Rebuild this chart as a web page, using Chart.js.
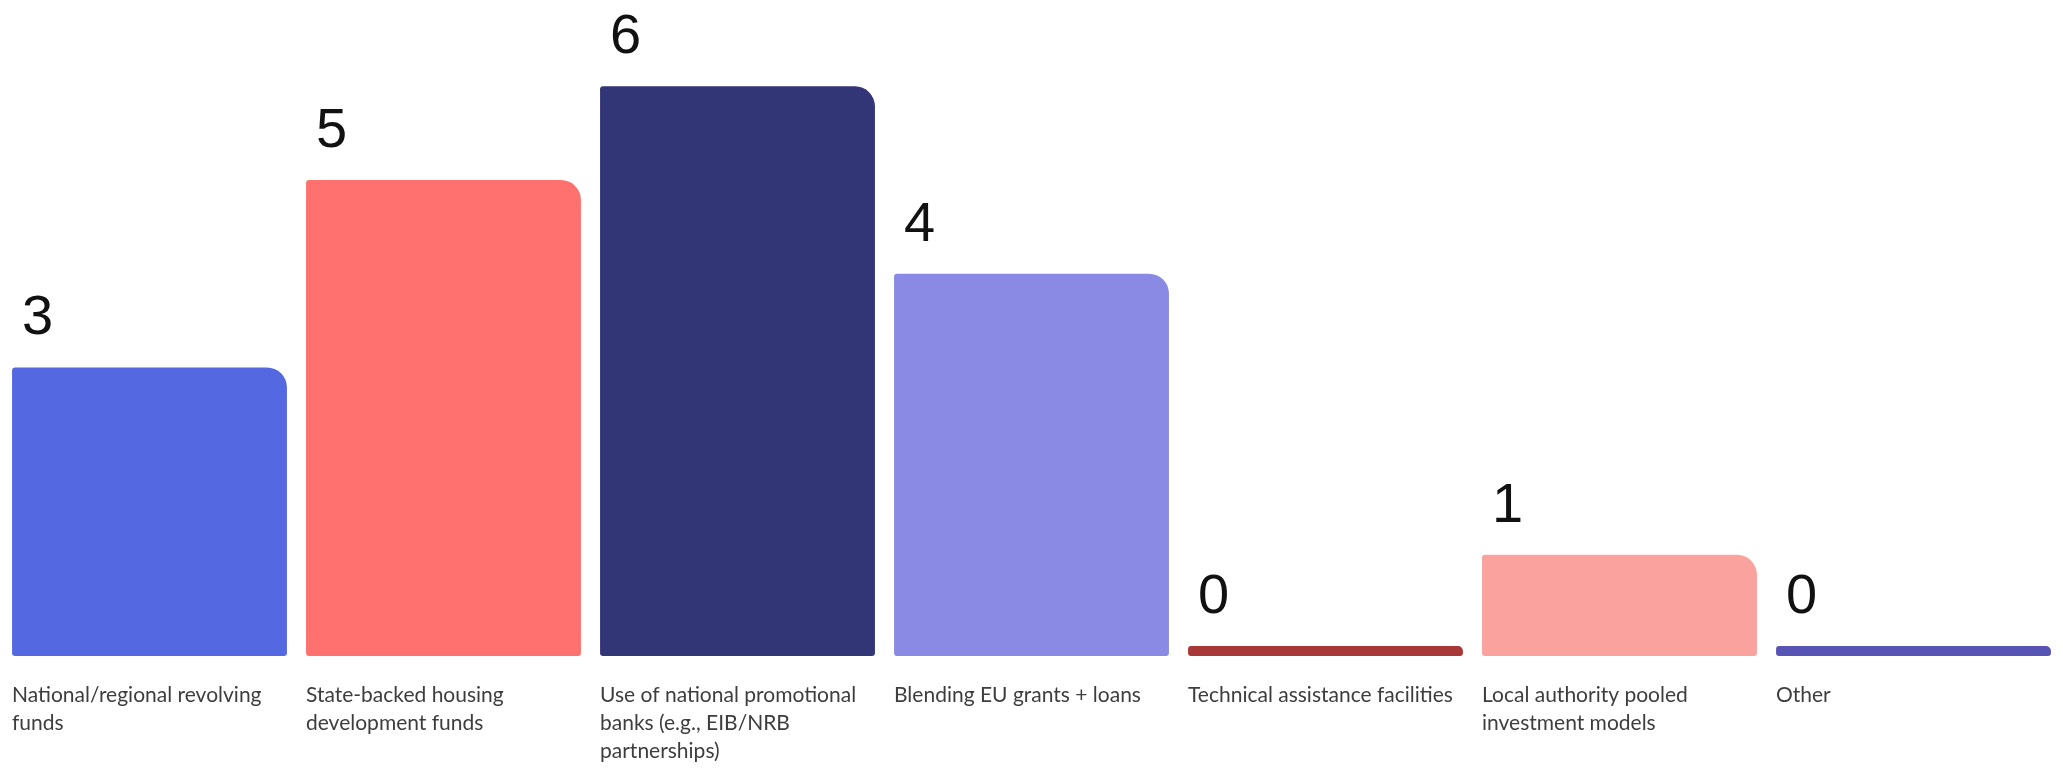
<!DOCTYPE html>
<html>
<head>
<meta charset="utf-8">
<title>Financing instruments</title>
<script src="https://cdn.jsdelivr.net/npm/chart.js@4.4.1/dist/chart.umd.min.js"></script>
<style>
    html, body { margin: 0; padding: 0; background: #ffffff; }
    #wrap { width: 2063px; height: 768px; position: relative; }
</style>
</head>
<body>
<div id="wrap"><canvas id="bar-chartInstrumentos"></canvas></div>
<script>
// Categorías (cada una partida en líneas como en la leyenda del eje)
const categorias = [
    ["National/regional revolving", "funds"],
    ["State-backed housing", "development funds"],
    ["Use of national promotional", "banks (e.g., EIB/NRB", "partnerships)"],
    ["Blending EU grants + loans"],
    ["Technical assistance facilities"],
    ["Local authority pooled", "investment models"],
    ["Other"]
];
const valores = [3, 5, 6, 4, 0, 1, 0];
const colores = ['#5468e2', '#ff716f', '#323676', '#8a8ae4', '#a83838', '#faa29e', '#5854b4'];

// Base de las barras un poco por debajo de cero
const baseEje = -0.08;

// Plugin sencillo para escribir el valor encima de cada barra
const etiquetasValor = {
    id: 'etiquetasValor',
    afterDatasetsDraw(chart) {
        const ctx = chart.ctx;
        const meta = chart.getDatasetMeta(0);
        ctx.save();
        ctx.font = '56px "Liberation Sans", Arial, sans-serif';
        ctx.fillStyle = '#111111';
        ctx.textAlign = 'left';
        ctx.textBaseline = 'alphabetic';
        meta.data.forEach((bar, i) => {
            const izq = bar.x - bar.width / 2;
            ctx.fillText(String(valores[i]), izq + 10, bar.y - 33);
        });
        ctx.restore();
    }
};

window.addEventListener("load", () => {
    window.barChartInstrumentos = new Chart(document.getElementById("bar-chartInstrumentos"), {
        type: 'bar',
        data: {
            labels: categorias,
            datasets: [{
                label: "Respuestas",
                data: valores,
                base: baseEje,
                backgroundColor: colores,
                borderWidth: 0,
                borderSkipped: false,
                borderRadius: { topLeft: 3, topRight: 20, bottomLeft: 3, bottomRight: 3 },
                minBarLength: 10,
                barPercentage: 0.935,
                categoryPercentage: 1
            }]
        },
        options: {
            responsive: true,
            maintainAspectRatio: false,
            devicePixelRatio: 1,
            animation: false,
            layout: { padding: { top: 2, left: 2.5, right: 2.5, bottom: 0 } },
            plugins: {
                legend: { display: false },
                tooltip: { enabled: false }
            },
            scales: {
                x: {
                    grid: { display: false, drawTicks: false },
                    border: { display: false },
                    ticks: {
                        align: 'start',
                        labelOffset: -137.5,
                        padding: 25,
                        color: '#3d3d3d',
                        autoSkip: false,
                        maxRotation: 0,
                        font: { family: 'Lato', size: 21, lineHeight: 1.333 }
                    },
                    afterFit: (scale) => { scale.height = 112; }
                },
                y: {
                    display: false,
                    min: baseEje,
                    max: 6.9
                }
            }
        },
        plugins: [etiquetasValor]
    });
});
</script>
</body>
</html>
